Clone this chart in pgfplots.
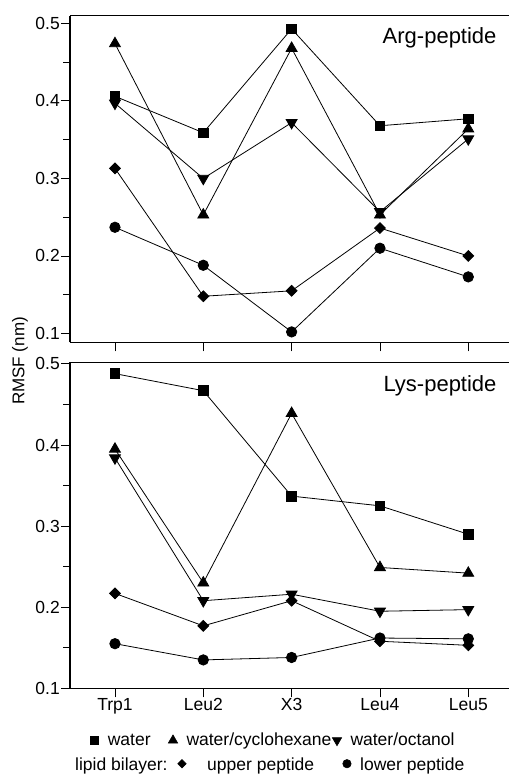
\documentclass[border=0pt]{standalone}
\usepackage{fontspec}
\setmainfont{Liberation Sans}
\usepackage{pgfplots}
\usepackage{pgfplotstable}
\pgfplotsset{compat=1.18}

% square-proportioned filled diamond
\pgfdeclareplotmark{sqdiamond*}{%
  \pgfpathmoveto{\pgfqpoint{0pt}{\pgfplotmarksize}}%
  \pgfpathlineto{\pgfqpoint{\pgfplotmarksize}{0pt}}%
  \pgfpathlineto{\pgfqpoint{0pt}{-\pgfplotmarksize}}%
  \pgfpathlineto{\pgfqpoint{-\pgfplotmarksize}{0pt}}%
  \pgfpathclose
  \pgfusepathqfillstroke}

% RMSF per residue (nm); columns: water, water/cyclohexane, water/octanol,
% lipid bilayer upper peptide, lipid bilayer lower peptide
\pgfplotstableread{
x water cyclo octanol upper lower
0 0.406 0.474 0.397 0.313 0.237
1 0.359 0.253 0.300 0.148 0.188
2 0.493 0.468 0.372 0.155 0.102
3 0.368 0.253 0.257 0.236 0.210
4 0.377 0.364 0.351 0.200 0.173
}\argdata

\pgfplotstableread{
x water cyclo octanol upper lower
0 0.488 0.395 0.384 0.217 0.155
1 0.467 0.230 0.208 0.177 0.135
2 0.337 0.439 0.216 0.208 0.138
3 0.325 0.249 0.195 0.158 0.162
4 0.290 0.242 0.197 0.153 0.161
}\lysdata

\pgfplotsset{
  rmsfpanel/.style={
    scale only axis,
    width=439pt,
    xmin=-0.509, xmax=4.461,
    axis x line*=box,
    axis y line*=left,
    axis line style={line width=1.1pt},
    tick style={line width=0.9pt, black},
    tick align=outside,
    major tick length=9pt,
    minor tick length=7pt,
    xtick={0,1,2,3,4},
    xtick pos=bottom,
    ytick={0.1,0.2,0.3,0.4,0.5},
    minor ytick={0.15,0.25,0.35,0.45},
    ytick pos=left,
    yticklabel style={/pgf/number format/fixed, /pgf/number format/fixed zerofill,
      /pgf/number format/precision=1, inner sep=1pt},
    /pgf/number format/assume math mode=true,
    ticklabel style={font=\fontsize{17.5}{20}\selectfont},
    clip=false,
    every axis plot/.append style={black, line width=0.8pt},
    legend cell align=left,
    legend columns=-1,
    legend style={draw=none, fill=none, inner sep=0pt, outer sep=0pt,
      column sep=0pt, row sep=0pt,
      nodes={inner sep=0pt, anchor=base west},
      font=\fontsize{17.5}{20}\selectfont},
  },
  sqr/.style={mark=square*, mark size=4.8pt},
  tup/.style={mark=triangle*, mark size=6.3pt},
  tdn/.style={mark=triangle*, mark size=6.3pt, mark options={rotate=180}},
  dia/.style={mark=sqdiamond*, mark size=5.4pt},
  cir/.style={mark=*, mark size=5.2pt},
}

\begin{document}
\begin{tikzpicture}
\path[use as bounding box] (0pt,0pt) rectangle (509pt,775pt);

% Arg-peptide panel (carries the solvent legend row)
\begin{axis}[rmsfpanel,
  at={(70pt,432.7pt)}, anchor=south west,
  height=326.6pt, ymin=0.0886, ymax=0.510,
  xticklabels={},
  legend style={at={(axis description cs:0.0417,-1.2169)}, anchor=west},
  legend image code/.code={\path[draw=none, fill=none] (-6pt,0pt) -- (6pt,0pt);
      \draw[#1, line width=0.6pt] plot coordinates {(0pt,5pt)};},
]
\addplot[sqr, forget plot] table[x=x, y=water] {\argdata};
\addplot[tup, forget plot] table[x=x, y=cyclo] {\argdata};
\addplot[tdn, forget plot] table[x=x, y=octanol] {\argdata};
\addplot[dia, forget plot] table[x=x, y=upper] {\argdata};
\addplot[cir, forget plot] table[x=x, y=lower] {\argdata};
\addlegendimage{mark=square*, mark size=3.85pt, black}
\addlegendentry{\hspace{7.5pt}\makebox[59.2pt][l]{water}}
\addlegendimage{mark=triangle*, mark size=5.4pt, black}
\addlegendentry{\hspace{7.5pt}\makebox[144.5pt][l]{water/cyclohexane}}
\addlegendimage{mark=triangle*, mark size=5.4pt, mark options={rotate=180}, black}
\addlegendentry{\hspace{7.5pt}water/octanol}
\end{axis}

% Lys-peptide panel; the lipid bilayer key symbols sit below it
\begin{axis}[rmsfpanel,
  at={(70pt,86.7pt)}, anchor=south west,
  height=326pt, ymin=0.1, ymax=0.502,
  xticklabels={Trp1,Leu2,X3,Leu4,Leu5},
  xticklabel style={inner sep=1pt},
]
\addplot[sqr] table[x=x, y=water] {\lysdata};
\addplot[tup] table[x=x, y=cyclo] {\lysdata};
\addplot[tdn] table[x=x, y=octanol] {\lysdata};
\addplot[dia] table[x=x, y=upper] {\lysdata};
\addplot[cir] table[x=x, y=lower] {\lysdata};
% key symbols for the lipid bilayer row
\addplot[only marks, mark=sqdiamond*, mark size=4.2pt, line width=0.6pt]
  coordinates {(0.7585,0.0070)};
\addplot[only marks, mark=*, mark size=4.2pt, line width=0.6pt]
  coordinates {(2.6265,0.0070)};
\end{axis}

\begin{scope}[every node/.style={anchor=base west, inner sep=0pt,
    font=\fontsize{17.5}{20}\selectfont}]
\node at (75pt,4.3pt) {lipid bilayer:};
\node at (207pt,4.3pt) {upper peptide};
\node at (360pt,4.3pt) {lower peptide};
\end{scope}
\node[anchor=base east, font=\fontsize{22}{26}\selectfont] at (500pt,731.7pt) {Arg-peptide};
\node[anchor=base east, font=\fontsize{22}{26}\selectfont] at (500pt,383.3pt) {Lys-peptide};
\node[rotate=90, font=\fontsize{17}{20}\selectfont] at (20pt,414pt) {RMSF (nm)};
\end{tikzpicture}
\end{document}
